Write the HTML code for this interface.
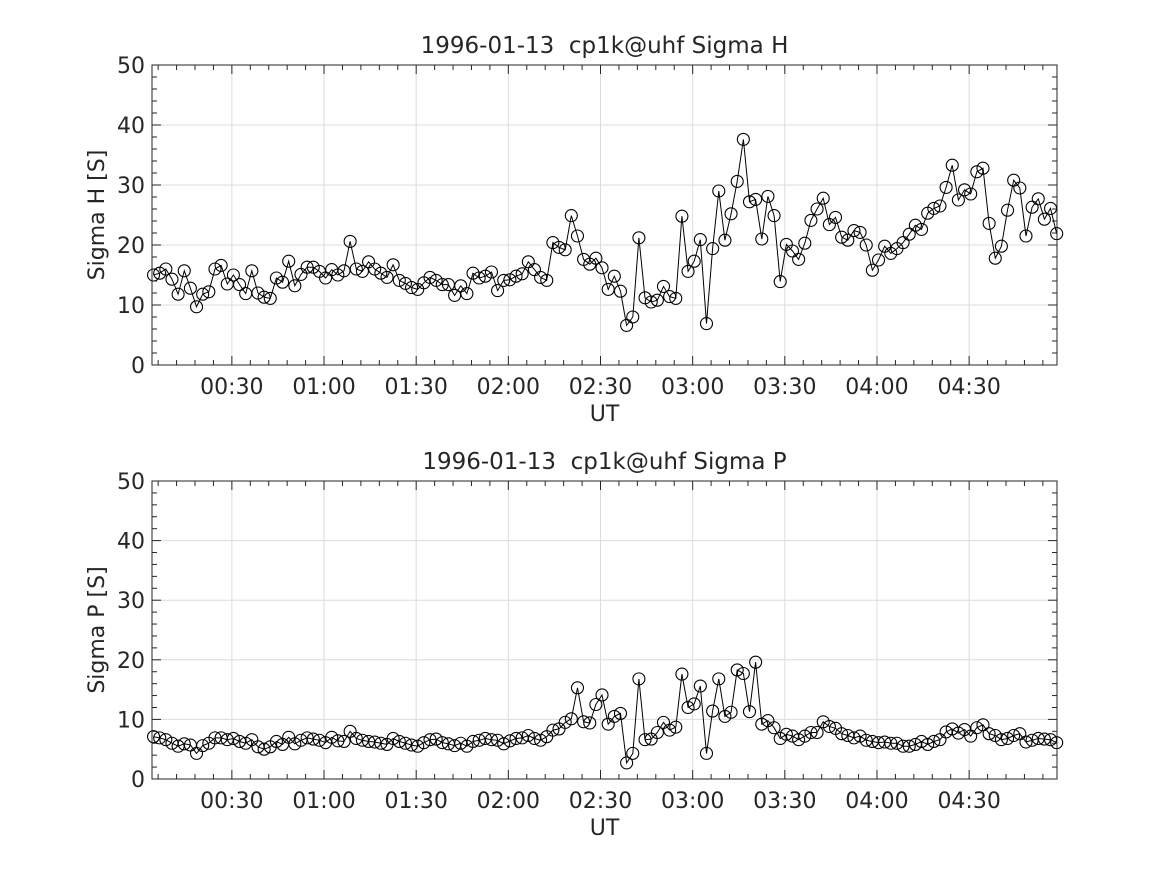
<!DOCTYPE html>
<html><head><meta charset="utf-8">
<style>
html,body{margin:0;padding:0;background:#fff;}
svg text{font-family:"DejaVu Sans","Liberation Sans",sans-serif;fill:#262626;white-space:pre;}
</style></head>
<body>
<svg id="chart" width="1167" height="875" xmlns="http://www.w3.org/2000/svg" xml:space="preserve"></svg>
<script>
const sigmaH = [15,15.3,16,14.3,11.8,15.7,12.8,9.7,11.8,12.2,16,16.6,13.5,15,13.4,11.9,15.7,12,11.3,11.1,14.5,13.8,17.3,13.2,15.1,16.3,16.3,15.6,14.5,15.9,15,15.7,20.6,16,15.6,17.2,16,15.3,14.6,16.7,14.1,13.6,12.9,12.6,13.7,14.6,14.1,13.4,13.4,11.6,13.2,11.9,15.3,14.5,14.8,15.5,12.4,14.1,14.2,14.8,15.2,17.2,15.9,14.6,14.1,20.4,19.6,19.2,24.9,21.5,17.6,16.8,17.8,16.2,12.6,14.8,12.3,6.6,8,21.2,11.2,10.5,10.8,13.1,11.4,11.1,24.8,15.6,17.3,20.9,6.9,19.4,29,20.8,25.2,30.6,37.6,27.2,27.6,21,28.1,24.9,13.9,20.1,19,17.6,20.3,24.1,26,27.8,23.4,24.6,21.3,20.8,22.4,22.1,20,15.8,17.5,19.8,18.6,19.4,20.4,21.8,23.3,22.6,25.3,26.1,26.5,29.6,33.3,27.5,29.2,28.5,32.2,32.8,23.6,17.8,19.8,25.8,30.8,29.5,21.5,26.3,27.7,24.3,26.1,21.9];
const sigmaP = [7.1,6.9,6.6,6,5.5,5.9,5.7,4.3,5.6,6,6.9,6.9,6.6,6.8,6.3,6,6.6,5.4,5,5.4,6.3,5.8,7,5.9,6.5,6.9,6.7,6.5,6.1,7,6.4,6.3,8,6.8,6.5,6.3,6.2,6,5.8,6.8,6.3,6,5.7,5.5,6.1,6.6,6.7,6.1,5.9,5.6,6,5.5,6.3,6.5,6.8,6.6,6.5,5.9,6.4,6.8,6.9,7.3,6.8,6.5,7.1,8.2,8.4,9.5,10.1,15.3,9.6,9.4,12.5,14.1,9.2,10.5,11,2.7,4.3,16.8,6.6,6.7,7.8,9.5,8.2,8.7,17.6,12,12.6,15.6,4.3,11.4,16.8,10.5,11.2,18.3,17.7,11.3,19.6,9.2,9.8,8.6,6.8,7.5,7.2,6.6,7.2,7.8,7.8,9.6,8.8,8.5,7.6,7.3,6.9,7.2,6.5,6.3,6.1,6.2,6,6,5.5,5.5,5.8,6.3,5.8,6.3,6.6,7.9,8.4,7.7,8.3,7.2,8.6,9.1,7.6,7.3,6.6,6.8,7.3,7.6,6.2,6.5,6.8,6.7,6.6,6.1];
const xTickMinutes = [30,60,90,120,150,180,210,240,270];
const xTickLabels = ["00:30","01:00","01:30","02:00","02:30","03:00","03:30","04:00","04:30"];
const yTicks = [0,10,20,30,40,50];
const titles = ["1996-01-13  cp1k@uhf Sigma H","1996-01-13  cp1k@uhf Sigma P"];
const yLabels = ["Sigma H [S]","Sigma P [S]"];

const NS="http://www.w3.org/2000/svg";
const svg=document.getElementById('chart');
const X0=152,X1=1057,TMIN=4.0,TMAX=298.6;
function xs(t){return X0+(t-TMIN)/(TMAX-TMIN)*(X1-X0);}
function mk(tag,attrs,parent){const e=document.createElementNS(NS,tag);for(const k in attrs)e.setAttribute(k,attrs[k]);(parent||svg).appendChild(e);return e;}

function panel(idx,data,Y0,Y1){
  const g=mk('g',{});
  
  
  const ys=v=>Y0+(50-v)/50*(Y1-Y0);
  mk('rect',{x:X0,y:Y0,width:X1-X0,height:Y1-Y0,fill:'#fff'},g);
  xTickMinutes.forEach(m=>{const l=mk('line',{x1:xs(m),x2:xs(m),y1:Y0,y2:Y1,stroke:'#dcdcdc','stroke-width':1},g);
    });
  yTicks.forEach(v=>{const l=mk('line',{x1:X0,x2:X1,y1:ys(v),y2:ys(v),stroke:'#dcdcdc','stroke-width':1},g);
    });
  for(let v=0;v<=50;v+=2){const y=ys(v);const L=(v%10===0)?9:5;
    mk('line',{x1:X0,x2:X0+L,y1:y,y2:y,stroke:'#262626','stroke-width':1},g);
    mk('line',{x1:X1,x2:X1-L,y1:y,y2:y,stroke:'#262626','stroke-width':1},g);}
  for(let m=6;m<TMAX;m+=6){const x=xs(m);const L=(m%30===0)?9:5;
    mk('line',{x1:x,x2:x,y1:Y1,y2:Y1-L,stroke:'#262626','stroke-width':1},g);
    mk('line',{x1:x,x2:x,y1:Y0,y2:Y0+L,stroke:'#262626','stroke-width':1},g);}
  const pts=data.map((v,i)=>xs(TMIN+0.5+2*i).toFixed(1)+','+ys(v).toFixed(1)).join(' ');
  const pl=mk('polyline',{points:pts,fill:'none',stroke:'#000','stroke-width':1},g);
  
  
  data.forEach((v,i)=>{const c=mk('circle',{cx:xs(TMIN+0.5+2*i),cy:ys(v),r:6,fill:'none',stroke:'#000','stroke-width':1.1},g);
    });
  mk('rect',{x:X0,y:Y0,width:X1-X0,height:Y1-Y0,fill:'none',stroke:'#262626','stroke-width':1},g);
  yTicks.forEach(v=>{const t=mk('text',{x:X0-7,y:ys(v)+8,'text-anchor':'end','font-size':22},g);t.textContent=v;
    });
  xTickMinutes.forEach((m,i)=>{const t=mk('text',{x:xs(m),y:Y1+29,'text-anchor':'middle','font-size':22},g);t.textContent=xTickLabels[i];
    });
  const xl=mk('text',{x:(X0+X1)/2,y:Y1+56,'text-anchor':'middle','font-size':22},g);xl.textContent='UT';
  
  const yl=mk('text',{x:0,y:0,'text-anchor':'middle','font-size':22,transform:`translate(104,${(Y0+Y1)/2}) rotate(-90)`},g);yl.textContent=yLabels[idx];
  
  const ti=mk('text',{x:(X0+X1)/2,y:Y0-12,'text-anchor':'middle','font-size':23},g);ti.textContent=titles[idx];
  
}
panel(0,sigmaH,65,365);
panel(1,sigmaP,481,779);
</script>
</body></html>
